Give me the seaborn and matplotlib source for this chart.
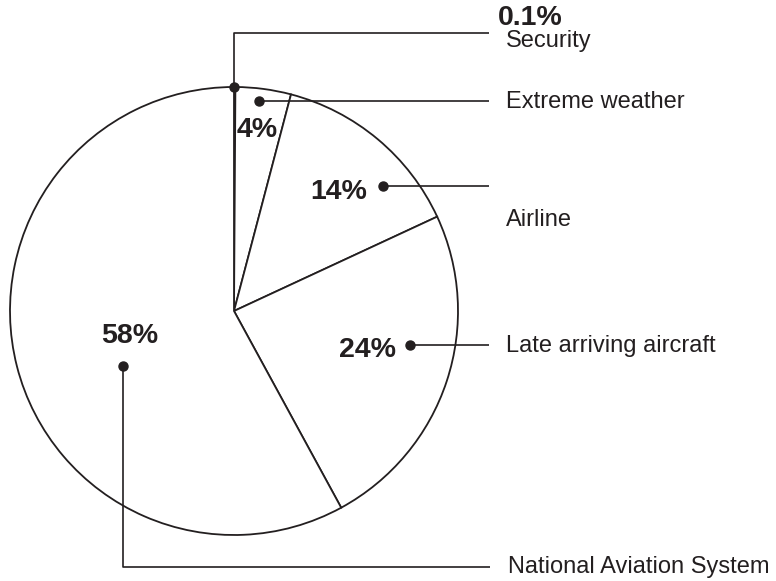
import matplotlib
matplotlib.use("Agg")
import matplotlib.pyplot as plt
import seaborn as sns

# Causes of flight delays, share of total (%)
causes = ["Security", "Extreme weather", "Airline",
          "Late arriving aircraft", "National Aviation System"]
shares = [0.1, 4, 14, 24, 58]
share_labels = ["0.1%", "4%", "14%", "24%", "58%"]

sns.set_theme(style="white")
plt.rcParams["font.family"] = ["Liberation Sans", "DejaVu Sans"]

W, H = 776, 581
INK = "#231f20"

fig = plt.figure(figsize=(W / 100, H / 100), dpi=100)
ax = fig.add_axes([0, 0, 1, 1])
ax.set_xlim(0, W)
ax.set_ylim(0, H)
ax.set_axis_off()


def Y(y):
    """Convert a top-down canvas row into the axes' upward y."""
    return H - y


cx, cy, r = 234, 311, 224
ax.pie(shares, startangle=90, counterclock=False, center=(cx, Y(cy)),
       radius=r, colors=["white"] * len(shares),
       wedgeprops=dict(edgecolor=INK, linewidth=1.3))
ax.set_xlim(0, W)
ax.set_ylim(0, H)
ax.set_aspect("auto")

line_kw = dict(color=INK, linewidth=1.2, solid_capstyle="butt")
dot_kw = dict(marker="o", markersize=6.5, color=INK, linestyle="none")
name_kw = dict(fontsize=17, color=INK, va="center", ha="left")
pct_kw = dict(fontsize=20.5, color=INK, fontweight="bold",
              va="center", ha="center")

# leader paths: (dot position, polyline to the label column)
leaders = [
    [(234, 87), (234, 33), (489, 33)],
    [(259, 101), (489, 101)],
    [(383, 186), (489, 186)],
    [(410, 345), (489, 345)],
    [(123, 366), (123, 567), (490, 567)],
]
for path in leaders:
    xs = [p[0] for p in path]
    ys = [Y(p[1]) for p in path]
    ax.plot(xs, ys, **line_kw)
    ax.plot(xs[0], ys[0], **dot_kw)

# category names
name_pos = [(506, 41), (506, 102), (506, 220), (506, 346), (508, 567)]
for name, (x, y) in zip(causes, name_pos):
    ax.text(x, Y(y), name, **name_kw)

# share values
ax.text(498, Y(18), share_labels[0], fontsize=20.5, color=INK,
        fontweight="bold", va="center", ha="left")
pct_pos = [(257, 130), (339, 192), (368, 350), (130, 336)]
for lab, (x, y) in zip(share_labels[1:], pct_pos):
    ax.text(x, Y(y), lab, **pct_kw)

fig.savefig("out.png", dpi=100, facecolor="white")
